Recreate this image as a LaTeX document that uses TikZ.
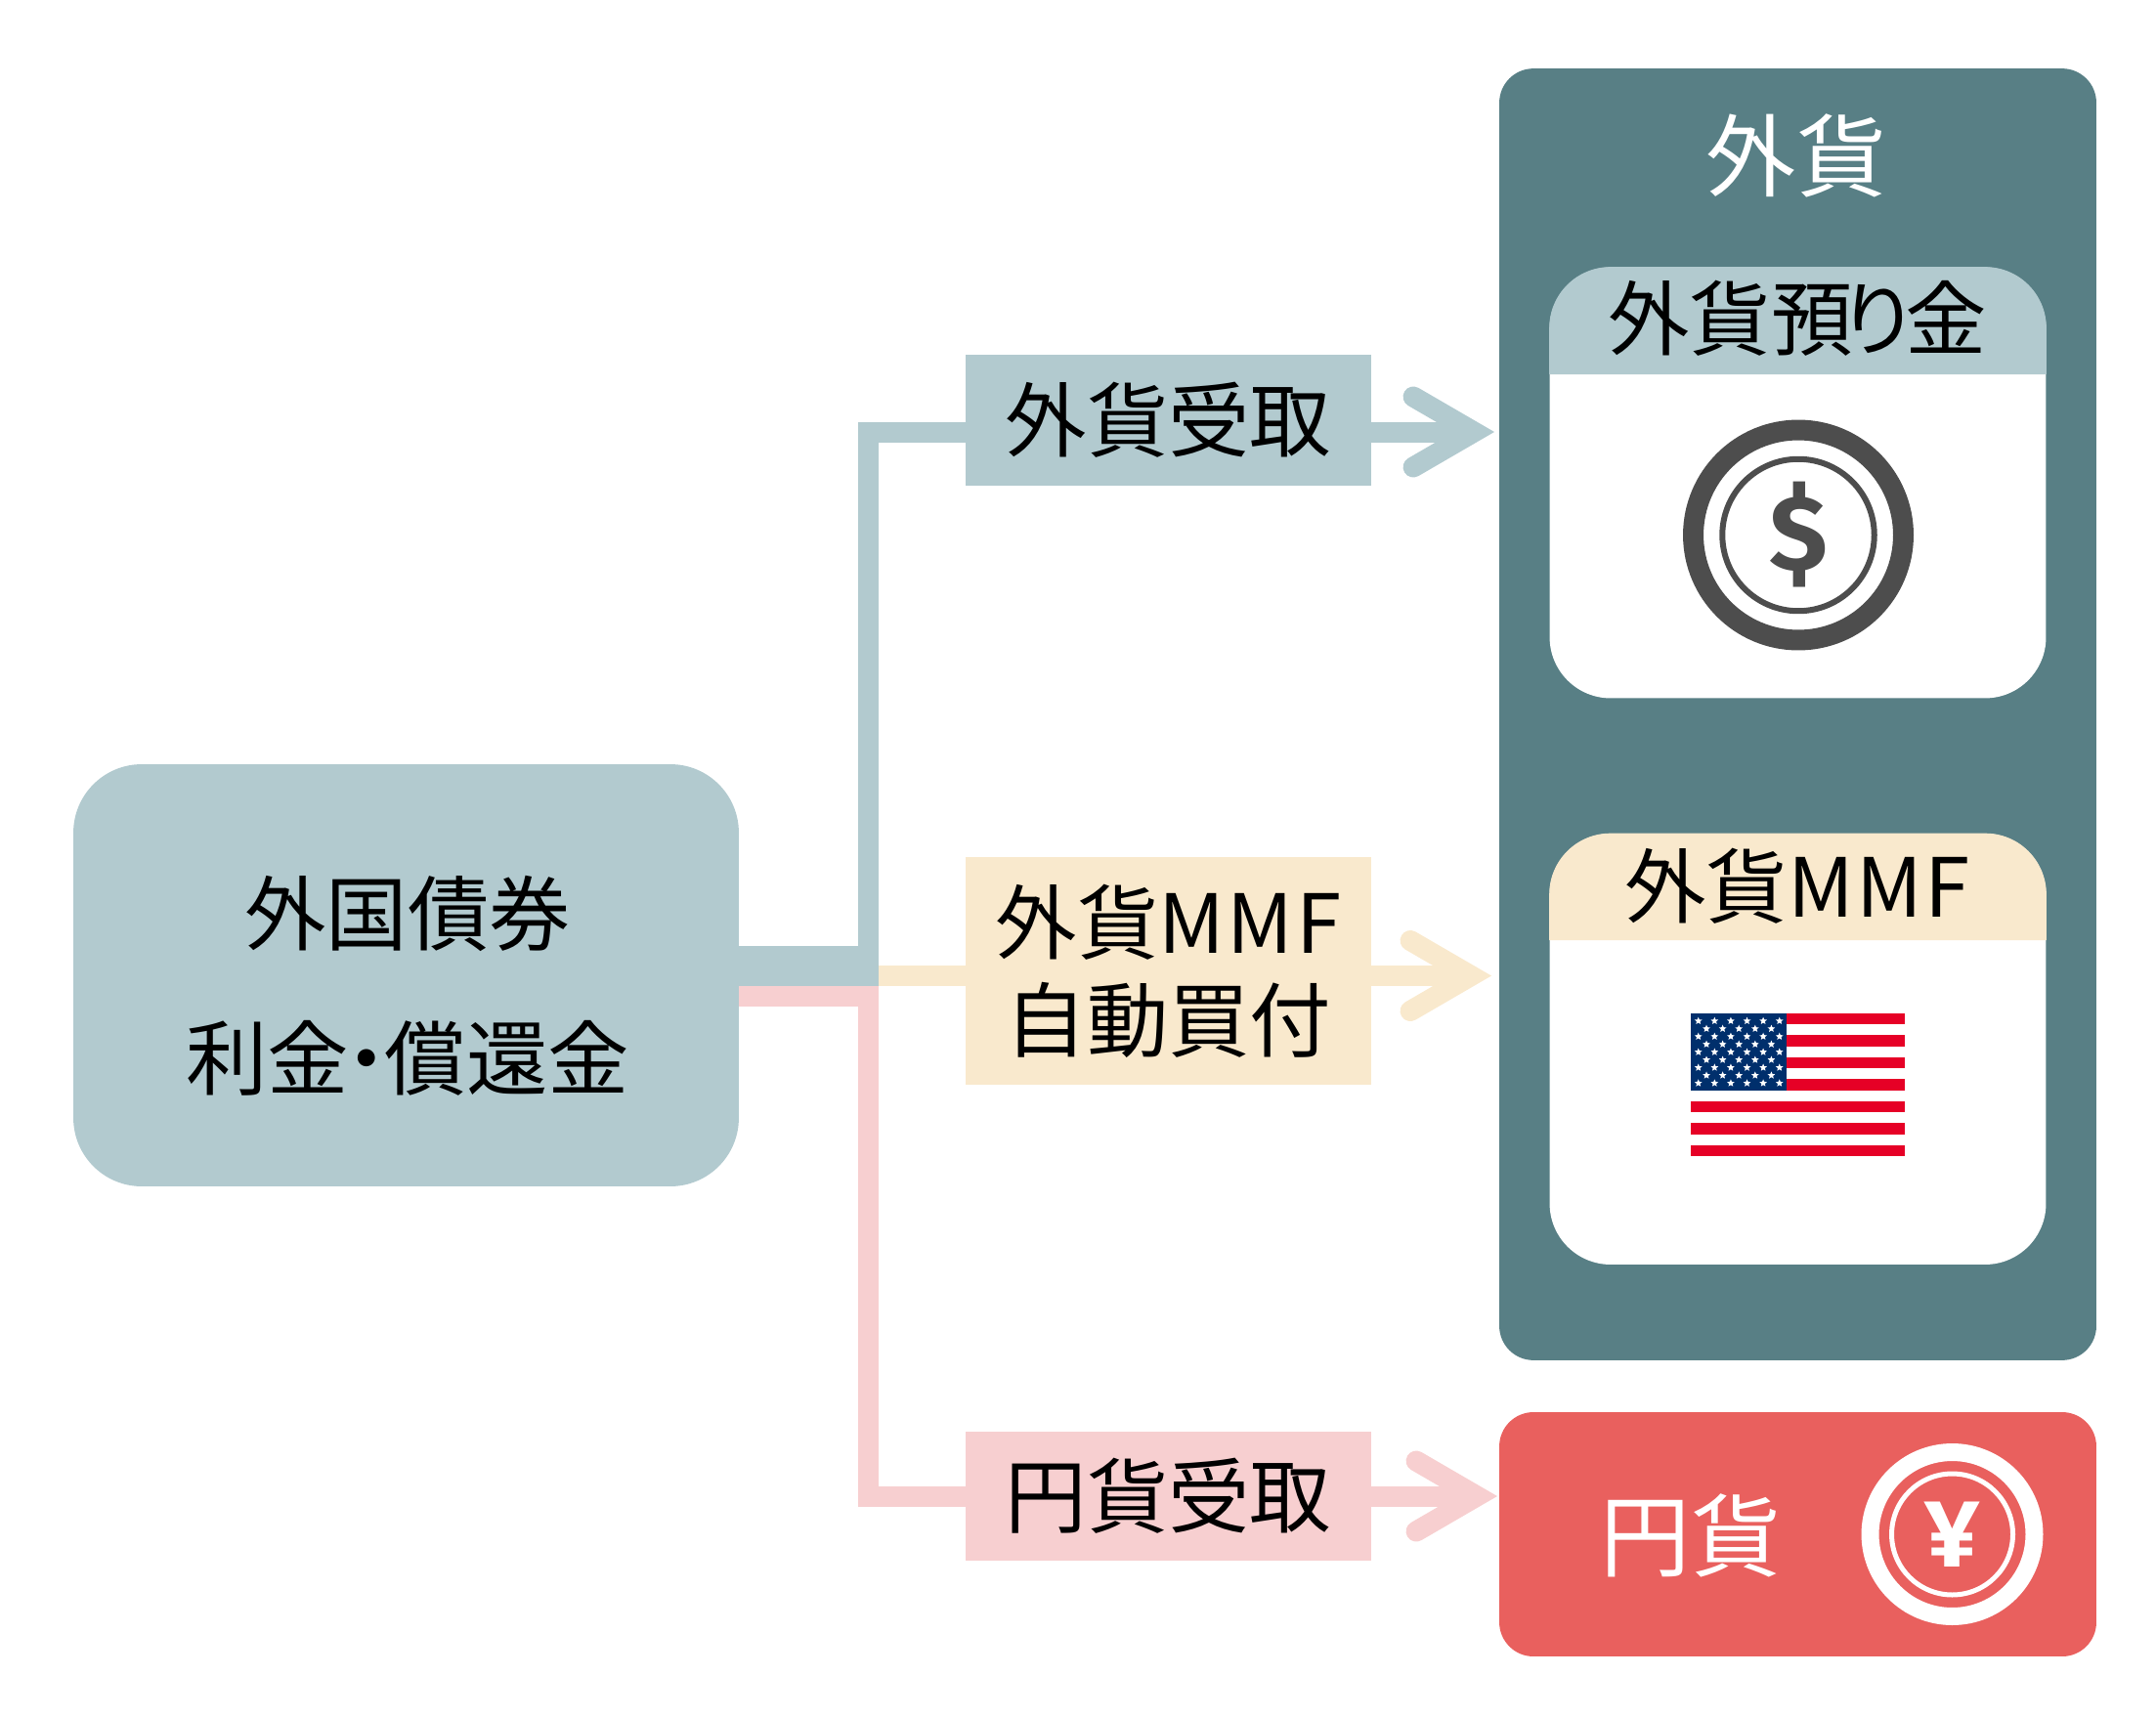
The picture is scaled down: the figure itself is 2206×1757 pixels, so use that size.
\documentclass[tikz,border=0pt]{standalone}
\usepackage{fontspec}
\setmainfont{Noto Sans CJK JP}
\newfontfamily\signfont{Fira Sans}
\usetikzlibrary{arrows.meta,shapes.geometric}
\definecolor{tealdark}{HTML}{587F85}
\definecolor{teallight}{HTML}{B2CACF}
\definecolor{creamlight}{HTML}{F9E9CD}
\definecolor{pinklight}{HTML}{F7CFD0}
\definecolor{reddark}{HTML}{E9605E}
\definecolor{coingray}{HTML}{4D4D4D}
\definecolor{flagred}{HTML}{E60026}
\definecolor{flagblue}{HTML}{002F6C}
\tikzset{
	panel/.style={fill=#1, inner sep=0pt, rounded corners=0.7cm, minimum width=12.22cm},
	labelbox/.style={fill=#1, inner sep=0pt, minimum width=8.3cm, align=center, font=\fontsize{47.5}{56.9}\selectfont},
	flow/.style={draw=#1, line width=0.42cm},
	flowtip/.style={draw=#1, line width=0.42cm, -{Straight Barb[length=35.3pt,width=41pt,line cap=round,line join=miter]}},
	cardtext/.style={font=\fontsize{47.5}{56.9}\selectfont},
	titletext/.style={text=white, font=\fontsize{52.5}{60}\selectfont},
	card/.style={fill=white, inner sep=0pt, rounded corners=1.25cm, minimum width=10.16cm, minimum height=8.82cm},
	flagstar/.style={star, star points=5, star point ratio=2.2, fill=white, inner sep=0pt, minimum size=0.16cm},
}
\begin{document}
\begin{tikzpicture}[x=0.02cm, y=-0.02cm]
	\useasboundingbox (0,0) rectangle (2206,1757);
	% boxes
	\node[fill=teallight, inner sep=0pt, rounded corners=1.4cm, minimum width=13.62cm, minimum height=8.64cm] (bond) at (415.5,998) {};
	\node[align=center, font=\fontsize{47.5}{84.2}\selectfont] (bondtext) at (417,1009) {外国債券\\利金\kern-0.28em・\kern-0.28em償還金};
	\node[panel=tealdark, minimum height=26.44cm] (foreign) at (1839.5,731) {};
	\node[panel=reddark, minimum height=5cm] (yen) at (1839.5,1570) {};
	\node[titletext] (foreigntitle) at (1838,159) {外貨};
	\node[titletext] (yentitle) at (1730,1571) {円貨};
	% cards
	\node[card] (deposit) at (1839.5,494) {};
	\node[card] (mmf) at (1839.5,1073.5) {};
	\fill[teallight] (deposit.west |- 0,383) [rounded corners=1.25cm] -- (deposit.north west) -- (deposit.north east) [sharp corners] -- (deposit.east |- 0,383) -- cycle;
	\fill[creamlight] (mmf.west |- 0,962) [rounded corners=1.25cm] -- (mmf.north west) -- (mmf.north east) [sharp corners] -- (mmf.east |- 0,962) -- cycle;
	\node[cardtext] (deposittext) at (1839,326) {外貨預\kern-0.18emり\kern-0.18em金};
	\node[cardtext] (mmftext) at (1839,907) {外貨M\kern.03em M\kern.03em F};
	% labels
	\node[labelbox=teallight, minimum height=2.68cm] (recvf) at (1195.5,430) {外貨受取};
	\node[labelbox=creamlight, minimum height=4.66cm] (auto) at (1195.5,993.5) {外貨M\kern.03em M\kern.03em F\\自動買付};
	\node[labelbox=pinklight, minimum height=2.64cm] (recvy) at (1195.5,1531) {円貨受取};
	% connectors
	\coordinate (bust) at (bond.east |- 0,988.5);
	\coordinate (busp) at (bond.east |- 0,1019.5);
	\coordinate (tipf) at (1529,442);
	\coordinate (tipa) at (1526,998.5);
	\coordinate (tipy) at (1532,1531);
	\draw[flow=teallight, line width=0.82cm] (bust) -- (899,988.5);
	\draw[flow=pinklight] (busp) -- (899,1019.5);
	\draw[flow=teallight] (888.5,968) -- (888.5,442) -- (recvf.west |- tipf);
	\draw[flow=creamlight] (899,998.5) -- (auto.west |- tipa);
	\draw[flow=pinklight] (888.5,1030) -- (888.5,1531) -- (recvy.west |- tipy);
	\draw[flowtip=teallight] (recvf.east |- tipf) -- (tipf);
	\draw[flowtip=creamlight] (auto.east |- tipa) -- (tipa);
	\draw[flowtip=pinklight] (recvy.east |- tipy) -- (tipy);
	% dollar coin
	\node[circle, draw=coingray, line width=0.42cm, inner sep=0pt, minimum size=4.3cm] (dollarring) at (1840,547.5) {};
	\node[circle, draw=coingray, line width=0.12cm, inner sep=0pt, minimum size=3.11cm, text=coingray, font=\signfont\bfseries\fontsize{62}{62}\selectfont] (dollar) at (1840,547.5) {\$};
	% yen coin
	\node[circle, draw=white, line width=0.36cm, inner sep=0pt, minimum size=3.36cm] (yenring) at (1997.5,1570) {};
	\node[circle, draw=white, line width=0.1cm, inner sep=0pt, minimum size=2.48cm, text=white, font=\signfont\bfseries\fontsize{56}{56}\selectfont] (yensign) at (1997.5,1570) {¥};
	% flag
	\foreach \i in {0,2,...,12}
		\fill[flagred] (1730,{1037+\i*11.23}) rectangle (1949,{1037+(\i+1)*11.23});
	\fill[flagblue] (1730,1037) rectangle (1828,1116);
	\foreach \r in {0,2,...,8}
		\foreach \c in {0,...,5}
			\node[flagstar] (s\r-\c) at ({1737.7+\c*16.6},{1044.7+\r*7.96}) {};
	\foreach \r in {1,3,...,7}
		\foreach \c in {0,...,4}
			\node[flagstar] (s\r-\c) at ({1746+\c*16.6},{1044.7+\r*7.96}) {};
\end{tikzpicture}
\end{document}
